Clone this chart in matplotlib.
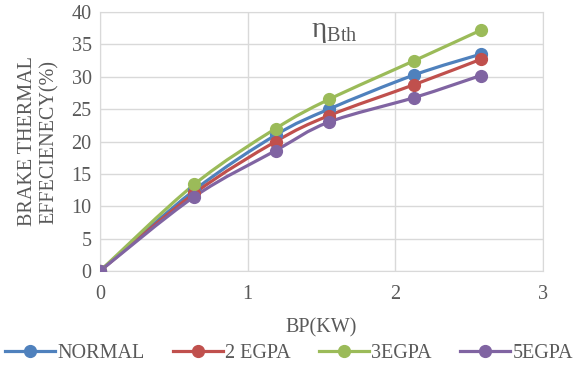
import matplotlib.pyplot as plt
import numpy as np
from matplotlib.path import Path
import matplotlib.patches as mpatches
from matplotlib.lines import Line2D

plt.rcParams['font.family'] = 'Liberation Serif'
plt.rcParams['mathtext.fontset'] = 'custom'
plt.rcParams['mathtext.rm'] = 'Liberation Serif'
plt.rcParams['mathtext.it'] = 'Liberation Serif'

bp = [0, 0.64, 1.19, 1.55, 2.13, 2.58]
normal = [0, 12.5, 21.0, 25.0, 30.3, 33.5]
egpa2 = [0, 12.0, 20.0, 24.0, 28.8, 32.7]
egpa3 = [0, 13.4, 22.0, 26.5, 32.5, 37.2]
egpa5 = [0, 11.5, 18.6, 23.0, 26.8, 30.2]

names = ["NORMAL", "2 EGPA", "3EGPA", "5EGPA"]
colors = ["#4f81bd", "#c0504d", "#9bbb59", "#8064a2"]
txt = "#595959"
fs = 14.5


def smooth_path(x, y, t=1/6):
    # catmull-rom style bezier through the points, like a spreadsheet "smoothed line"
    pts = np.column_stack([x, y]).astype(float)
    verts = [pts[0]]
    codes = [Path.MOVETO]
    n = len(pts)
    for i in range(n - 1):
        p0 = pts[i - 1] if i > 0 else pts[i]
        p1 = pts[i]
        p2 = pts[i + 1]
        p3 = pts[i + 2] if i + 2 < n else pts[i + 1]
        c1 = p1 + (p2 - p0) * t
        c2 = p2 - (p3 - p1) * t
        verts += [c1, c2, p2]
        codes += [Path.CURVE4] * 3
    return Path(verts, codes)


fig = plt.figure(figsize=(5.78, 3.72), dpi=100)
ax = fig.add_axes([0.173, 0.2715, 0.766, 0.696])

for ys, c in zip([normal, egpa2, egpa3, egpa5], colors):
    ax.add_patch(mpatches.PathPatch(smooth_path(bp, ys), fill=False, edgecolor=c,
                                    lw=2.3, capstyle='round', zorder=3))
    ax.plot(bp, ys, ls='none', marker='o', ms=8.5, color=c, zorder=4)

ax.set_xlim(0, 3)
ax.set_ylim(0, 40)
ax.set_xticks([0, 1, 2, 3])
ax.set_yticks(range(0, 41, 5))
ax.grid(True, color='#d9d9d9', lw=1)
ax.set_axisbelow(True)
for s in ax.spines.values():
    s.set_color('#d9d9d9')
ax.tick_params(length=0, labelsize=fs, colors=txt)
ax.tick_params(axis='x', pad=10)
ax.tick_params(axis='y', pad=6)

ax.set_xlabel("BP(KW)", fontsize=fs, color=txt, labelpad=10)
ax.set_ylabel("BRAKE THERMAL\nEFFECIENECY(%)", fontsize=fs, color=txt,
              linespacing=1.2, labelpad=9)

ax.text(1.59, 37.0, r'$\mathrm{\eta_{Bth}}$', fontsize=21, color=txt,
        ha='center', va='center')

handles = [Line2D([0], [0], color=c, lw=2.3, marker='o', ms=8.5) for c in colors]
fig.legend(handles, names, loc='lower center', bbox_to_anchor=(0.5, -0.025),
           ncol=4, frameon=False, fontsize=fs, labelcolor=txt,
           handlelength=2.5, handletextpad=0.1, columnspacing=1.4)

fig.savefig("out.png", dpi=100)
